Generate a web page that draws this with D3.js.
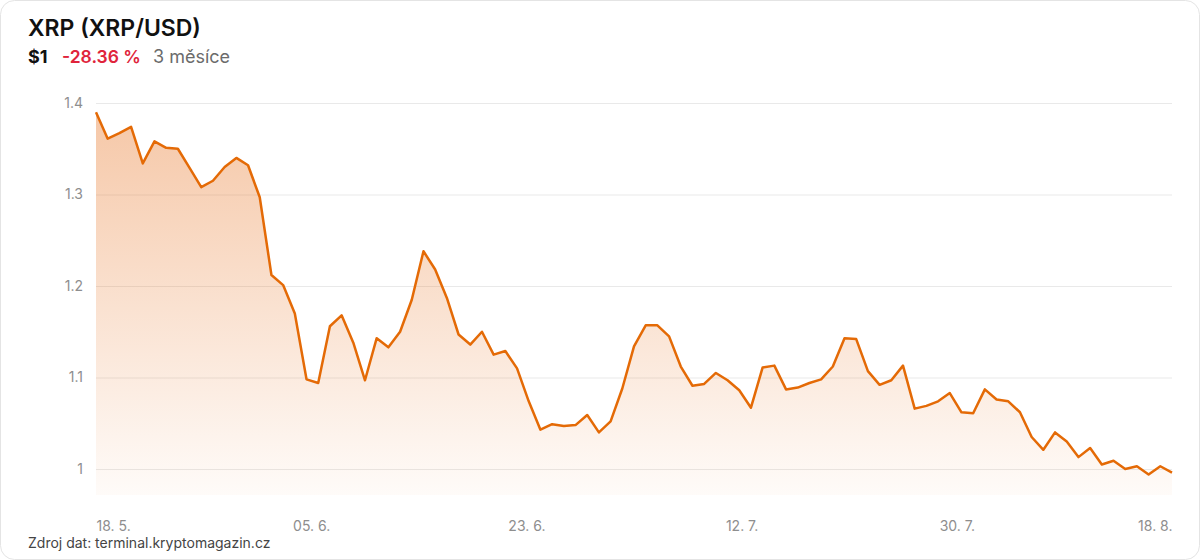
<!DOCTYPE html>
<html>
<head>
<meta charset="utf-8">
<script src="https://cdn.jsdelivr.net/npm/d3@7"></script>
<style>
  body { margin: 0; background: #fff; font-family: Inter, "Noto Sans", sans-serif; }
  svg { display: block; }
</style>
</head>
<body>
<svg id="chart"></svg>
<script>
// XRP closing price, daily, 18. 5. - 18. 8.
const startDate = "2025-05-18";
const prices = [
  1.390, 1.361, 1.367, 1.374, 1.334, 1.358, 1.351, 1.350, 1.329, 1.308,
  1.315, 1.330, 1.340, 1.332, 1.297, 1.212, 1.201, 1.170, 1.098, 1.094,
  1.156, 1.168, 1.138, 1.097, 1.143, 1.133, 1.150, 1.185, 1.238, 1.218,
  1.187, 1.147, 1.136, 1.150, 1.125, 1.129, 1.110, 1.074, 1.043, 1.049,
  1.047, 1.048, 1.059, 1.040, 1.052, 1.088, 1.134, 1.157, 1.157, 1.145,
  1.112, 1.091, 1.093, 1.105, 1.097, 1.086, 1.067, 1.111, 1.113, 1.087,
  1.089, 1.094, 1.098, 1.112, 1.143, 1.142, 1.107, 1.092, 1.097, 1.113,
  1.066, 1.069, 1.074, 1.083, 1.062, 1.061, 1.087, 1.076, 1.074, 1.062,
  1.035, 1.021, 1.040, 1.030, 1.013, 1.023, 1.005, 1.009, 1.000, 1.003,
  0.994, 1.003, 0.996
];
const yTicks = [1, 1.1, 1.2, 1.3, 1.4];
const xTickLabels = ["18. 5.", "05. 6.", "23. 6.", "12. 7.", "30. 7.", "18. 8."];

const titleText = "XRP (XRP/USD)";
const priceText = "$1";
const changeText = "-28.36 %";
const periodText = "3 měsíce";
const sourceText = "Zdroj dat: terminal.kryptomagazin.cz";

const width = 1200, height = 560;
const margin = { top: 103, right: 28, bottom: 65, left: 96 };

const parse = d3.timeParse("%Y-%m-%d");
const t0 = parse(startDate);
const data = prices.map((v, i) => ({ date: d3.timeDay.offset(t0, i), value: v }));

const svg = d3.select("#chart").attr("width", width).attr("height", height);

// card
svg.append("rect")
  .attr("x", 0.5).attr("y", 0.5)
  .attr("width", width - 1).attr("height", height - 1)
  .attr("rx", 14)
  .attr("fill", "#fff")
  .attr("stroke", "#e4e4e4");

// header
svg.append("text")
  .attr("x", 28).attr("y", 36)
  .style("font-size", "23px").style("font-weight", 600).attr("fill", "#111")
  .text(titleText);

svg.append("text")
  .attr("x", 28).attr("y", 63)
  .style("font-size", "18px").style("font-weight", 700).attr("fill", "#111")
  .text(priceText);
svg.append("text")
  .attr("x", 62).attr("y", 63)
  .style("font-size", "17.5px").style("font-weight", 600).attr("fill", "#e0243b")
  .text(changeText);
svg.append("text")
  .attr("x", 153).attr("y", 63)
  .style("font-size", "18px").style("font-weight", 400).attr("fill", "#6b6b6b")
  .text(periodText);

const plotW = width - margin.left - margin.right;
const bottomY = height - margin.bottom;

const x = d3.scaleTime()
  .domain(d3.extent(data, d => d.date))
  .range([margin.left, margin.left + plotW]);

const y = d3.scaleLinear()
  .domain([0.9716, 1.4])
  .range([bottomY, margin.top]);

// gradient for the area
const defs = svg.append("defs");
const grad = defs.append("linearGradient")
  .attr("id", "areaGrad")
  .attr("gradientUnits", "userSpaceOnUse")
  .attr("x1", 0).attr("x2", 0)
  .attr("y1", y(1.4)).attr("y2", bottomY);
grad.append("stop").attr("offset", "0%").attr("stop-color", "#e8782a").attr("stop-opacity", 0.42);
grad.append("stop").attr("offset", "100%").attr("stop-color", "#e8782a").attr("stop-opacity", 0.03);

// grid lines + y labels
const yAxis = d3.axisLeft(y)
  .tickValues(yTicks)
  .tickSize(-plotW)
  .tickPadding(13)
  .tickFormat(d => String(d));

const yAxisGroup = svg.append("g")
  .attr("class", "axis y-axis")
  .attr("transform", `translate(${margin.left},0)`)
  .call(yAxis);
yAxisGroup.select(".domain").remove();
yAxisGroup.selectAll(".tick line").attr("stroke", "#e9e9e9");
yAxisGroup.selectAll(".tick text")
  .attr("fill", "#8e8e8e")
  .style("font-size", "14px")
  .style("font-family", "Inter, sans-serif");

// area + line
const area = d3.area()
  .x(d => x(d.date))
  .y0(bottomY)
  .y1(d => y(d.value));

const line = d3.line()
  .x(d => x(d.date))
  .y(d => y(d.value));

svg.append("path")
  .datum(data)
  .attr("fill", "url(#areaGrad)")
  .attr("d", area);

svg.append("path")
  .datum(data)
  .attr("fill", "none")
  .attr("stroke", "#e46a06")
  .attr("stroke-width", 2.5)
  .attr("stroke-linejoin", "round")
  .attr("d", line);

// x axis: labels spread evenly over the date range
const [d0, d1] = x.domain();
const xTickDates = xTickLabels.map((_, i) =>
  new Date(+d0 + (d1 - d0) * i / (xTickLabels.length - 1)));

const xAxis = d3.axisBottom(x)
  .tickValues(xTickDates)
  .tickSize(0)
  .tickPadding(0)
  .tickFormat((d, i) => xTickLabels[i]);

const xAxisGroup = svg.append("g")
  .attr("class", "axis x-axis")
  .attr("transform", `translate(0,${bottomY})`)
  .call(xAxis);
xAxisGroup.select(".domain").remove();
xAxisGroup.selectAll(".tick text")
  .attr("dy", 0)
  .attr("y", 36)
  .attr("fill", "#8e8e8e")
  .style("font-size", "14px")
  .style("font-family", "Inter, sans-serif")
  .attr("text-anchor", (d, i) => i === 0 ? "start" : (i === xTickLabels.length - 1 ? "end" : "middle"));

// source note
svg.append("text")
  .attr("x", 28).attr("y", 548)
  .style("font-size", "14px").attr("fill", "#444")
  .text(sourceText);
</script>
</body>
</html>
